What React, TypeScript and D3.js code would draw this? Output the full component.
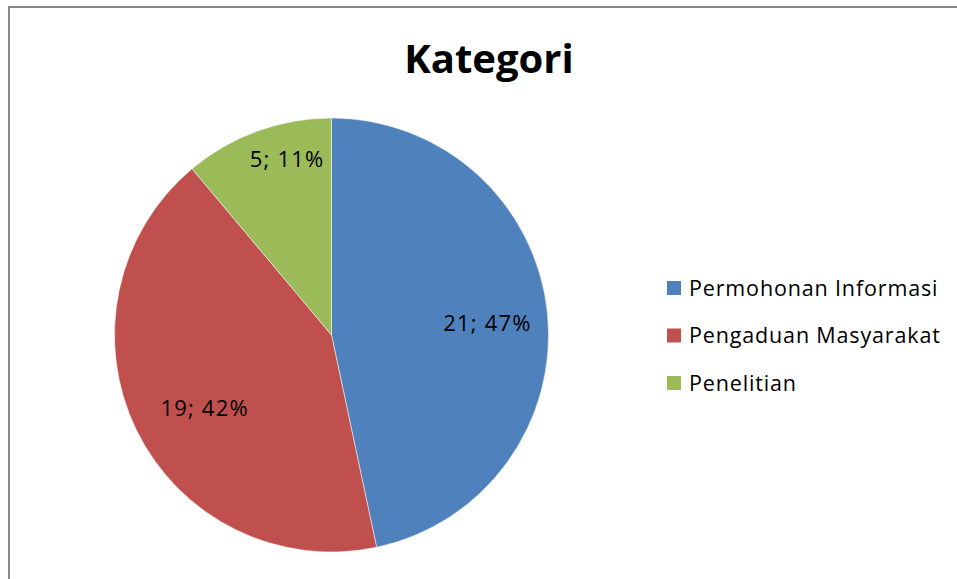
import React from 'react';
import * as d3 from 'd3';

const width = 957;
const height = 579;

const categories = ['Permohonan Informasi', 'Pengaduan Masyarakat', 'Penelitian'];
const values = [21, 19, 5];
const percentLabels = ['47%', '42%', '11%'];
const colors = ['#4f81bd', '#c0504d', '#9bbb59'];
// where the data label sits: share of the radius, and share of the slice's sweep
const labelRadius = [0.718, 0.677, 0.834];
const labelSweep = [0.51, 0.475, 0.64];

const font = '"Open Sans", Lato, sans-serif';

export default function App() {
  const cx = 331.5;
  const cy = 335;
  const r = 217;

  const pie = d3.pie<number>().sort(null).value(d => d)(values);
  const arc = d3.arc<d3.PieArcDatum<number>>().innerRadius(0).outerRadius(r);

  const legendY = d3.scalePoint<string>().domain(categories).range([288, 383]);

  return (
    <svg width={width} height={height} style={{ position: 'absolute', left: 0, top: 0, background: '#fff' }}>
      <path d={`M${width},7 H9 V${height}`} fill="none" stroke="#888" strokeWidth={2} />
      <text x={489} y={73} textAnchor="middle" fontFamily={font} fontWeight="bold" fontSize={40}>
        Kategori
      </text>
      <g transform={`translate(${cx},${cy})`}>
        {pie.map((p, i) => (
          <path key={categories[i]} d={arc(p) || ''} fill={colors[i]} stroke="#fff" strokeWidth={0.5} />
        ))}
        {pie.map((p, i) => {
          const a = p.startAngle + (p.endAngle - p.startAngle) * labelSweep[i];
          const lr = r * labelRadius[i];
          return (
            <text
              key={'l' + i}
              x={Math.sin(a) * lr + 0.6}
              y={-Math.cos(a) * lr + 7.5}
              textAnchor="middle"
              fontFamily={font}
              fontSize={22}
              letterSpacing={1.2}
              fill="#000"
            >
              {`${values[i]}; ${percentLabels[i]}`}
            </text>
          );
        })}
      </g>
      {categories.map((c, i) => (
        <g key={c} transform={`translate(667,${legendY(c)})`}>
          <rect x={0} y={-7} width={14} height={14} fill={colors[i]} />
          <text x={22} y={7.5} fontFamily={font} fontSize={21.5} letterSpacing={0.85} fill="#000">
            {c}
          </text>
        </g>
      ))}
    </svg>
  );
}
